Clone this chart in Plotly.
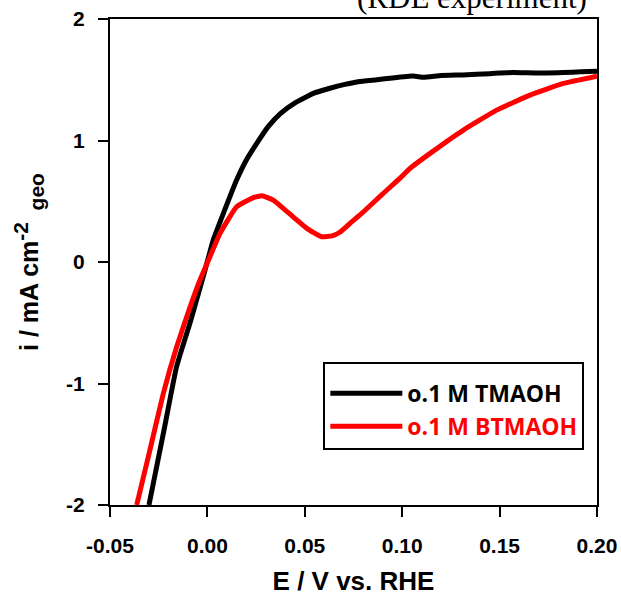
import plotly.graph_objects as go

# Data
tmaoh_E = [-0.0300, -0.0226, -0.0158, -0.0089, -0.0055, -0.0012, 0.0030, 0.0082, 0.0150,
           0.0200, 0.0255, 0.0310, 0.0373, 0.0450, 0.0544, 0.0629, 0.0700, 0.0775,
           0.0870, 0.0950, 0.1057, 0.1110, 0.1200, 0.1310, 0.1450, 0.1570, 0.1700,
           0.1826, 0.1920, 0.2000]
tmaoh_i = [-2.00, -1.41, -0.86, -0.50, -0.31, -0.066, 0.18, 0.40, 0.675,
           0.84, 0.98, 1.11, 1.22, 1.31, 1.388, 1.43, 1.46, 1.484,
           1.50, 1.515, 1.53, 1.52, 1.535, 1.54, 1.55, 1.56, 1.555,
           1.56, 1.565, 1.57]

btmaoh_E = [-0.0363, -0.0295, -0.0226, -0.0158, -0.0089, -0.0038, 0.0013, 0.0065, 0.0150,
            0.0236, 0.0280, 0.0338, 0.0441, 0.0510, 0.0586, 0.0640, 0.0680, 0.0732,
            0.0783, 0.0903, 0.0989, 0.1040, 0.1143, 0.1314, 0.1485, 0.1656, 0.1827,
            0.2000]
btmaoh_i = [-2.00, -1.547, -1.08, -0.70, -0.37, -0.148, 0.044, 0.236, 0.455,
            0.53, 0.545, 0.51, 0.37, 0.277, 0.208, 0.215, 0.245, 0.318,
            0.387, 0.565, 0.69, 0.77, 0.894, 1.086, 1.25, 1.374, 1.47,
            1.53]

x_ticks = [-0.05, 0.00, 0.05, 0.10, 0.15, 0.20]
x_ticktext = ["-0.05", "0.00", "0.05", "0.10", "0.15", "0.20"]
y_ticks = [-2, -1, 0, 1, 2]
y_ticktext = ["-2", "-1", "0", "1", "2"]

AX_FONT = "Liberation Sans, Arial, sans-serif"

fig = go.Figure()
fig.add_trace(go.Scatter(x=tmaoh_E, y=tmaoh_i, mode="lines",
                         line=dict(color="black", width=5, shape="spline", smoothing=0.4),
                         name="o.1 M TMAOH"))
fig.add_trace(go.Scatter(x=btmaoh_E, y=btmaoh_i, mode="lines",
                         line=dict(color="#ff0000", width=5, shape="spline", smoothing=0.4),
                         name="<span style='color:#ff0000'>o.1 M BTMAOH</span>"))

fig.update_layout(
    width=621, height=596,
    margin=dict(l=110, r=24, t=19, b=91, autoexpand=False),
    paper_bgcolor="white", plot_bgcolor="white",
    showlegend=True,
    legend=dict(x=0.974, y=0.113, xanchor="right", yanchor="bottom",
                bgcolor="white", bordercolor="black", borderwidth=2,
                font=dict(family="Open Sans, sans-serif", size=23, color="black", weight="bold"),
                itemwidth=72, tracegroupgap=0,
                title=dict(text=" ", font=dict(size=6))),
    annotations=[dict(text="(RDE experiment)", xref="paper", yref="paper",
                      x=0.983, y=1.044, xanchor="right", yanchor="middle",
                      showarrow=False,
                      font=dict(family="Liberation Serif, Times New Roman, serif", size=31, color="black"))],
)

fig.update_xaxes(range=[-0.05, 0.20], tickvals=x_ticks, ticktext=x_ticktext,
                 automargin=False,
                 showgrid=False, zeroline=False, showline=True, linecolor="black", linewidth=2,
                 mirror=True, ticks="outside", ticklen=10, tickwidth=2, tickcolor="black",
                 ticklabelstandoff=11,
                 tickfont=dict(family=AX_FONT, size=21, color="black", weight="bold"),
                 title=dict(text="E / V vs. RHE", standoff=20,
                            font=dict(family=AX_FONT, size=26, color="black", weight="bold")))
fig.update_yaxes(range=[-2, 2], tickvals=y_ticks, ticktext=y_ticktext,
                 automargin=False,
                 showgrid=False, zeroline=False, showline=True, linecolor="black", linewidth=2,
                 mirror=True, ticks="outside", ticklen=10, tickwidth=2, tickcolor="black",
                 ticklabelstandoff=9,
                 tickfont=dict(family=AX_FONT, size=21, color="black", weight="bold"),
                 title=dict(text="i / mA cm<sup><span style='font-size:21px'>-2</span></sup>"
                                 "<sub><span style='font-size:21px'>  geo</span></sub>",
                            standoff=20,
                            font=dict(family=AX_FONT, size=25, color="black", weight="bold")))

fig.write_html("out.html", config={"displayModeBar": False},
               post_script="document.body.style.margin='0px';document.body.style.overflow='hidden';")
